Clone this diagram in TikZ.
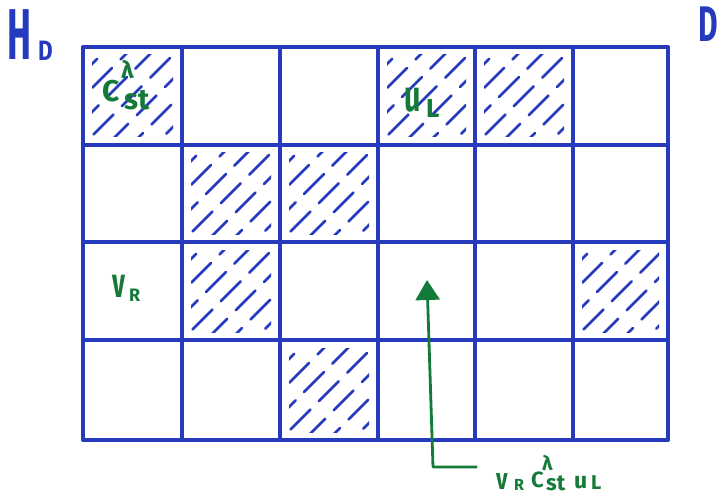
\documentclass[tikz,border=0pt]{standalone}
\usepackage{fontspec}
\setmainfont{Fira Sans}
\usetikzlibrary{arrows.meta}
\definecolor{ink}{RGB}{38,58,190}
\definecolor{pen}{RGB}{20,122,55}
\tikzset{
  grid line/.style={draw=ink, line width=3.4pt, line cap=round, line join=round},
  hatch/.style={draw=ink, line width=2.6pt, line cap=round, dash pattern=on 28pt off 12pt},
  lbl/.style={text=pen, inner sep=0pt, anchor=base west},
  title/.style={text=ink, inner sep=0pt, anchor=base west},
  pointer/.style={draw=pen, line width=2.8pt, line join=round,
    -{Triangle[length=20pt,width=24pt]}},
}
% hatch the cell with corners (x1,y1) and (x2,y2)
\newcommand\hatchcell[4]{%
  \begin{scope}
    \clip (#1+9,#2+8) rectangle (#3-9,#4-8);
    \foreach \k [count=\i] in {-96,-72,...,100}
      \draw[hatch, dash phase=\i*13pt] (#1+\k,#4) -- ++(110,-110);
  \end{scope}}
\begin{document}
\begin{tikzpicture}[x=1pt,y=-1pt]
\useasboundingbox (0,0) rectangle (722,497);

% hatched blocks
\hatchcell{83}{47}{182}{145}
\hatchcell{378}{47}{475}{145}
\hatchcell{475}{47}{573}{145}
\hatchcell{182}{145}{280}{242}
\hatchcell{280}{145}{378}{242}
\hatchcell{182}{242}{280}{340}
\hatchcell{573}{242}{668}{340}
\hatchcell{280}{340}{378}{440}

% grid
\foreach \x in {83,182,280,378,475,573,668}
  \draw[grid line] (\x,47) -- (\x,440);
\foreach \y in {47,145,242,340,440}
  \draw[grid line] (83,\y) -- (668,\y);

% matrix names
\node[title, font=\fontsize{72}{72}\selectfont\bfseries, xscale=0.5] (H) at (7,60) {H};
\node[title, font=\fontsize{28}{28}\selectfont\bfseries, xscale=0.8] (Hsub) at (38,61) {D};
\node[title, font=\fontsize{50}{50}\selectfont\bfseries, xscale=0.6] (D) at (698,42) {D};

% block labels
\node[lbl, font=\fontsize{30}{30}\selectfont\bfseries] (C1) at (102,102) {C};
\node[lbl, font=\fontsize{29}{29}\selectfont\bfseries] (st1) at (124,110) {st};
\node[lbl, font=\fontsize{24}{24}\selectfont\bfseries] (lam1) at (121,79) {λ};

\node[lbl, font=\fontsize{44}{44}\selectfont\bfseries, xscale=0.65] (u1) at (404,112) {u};
\node[lbl, font=\fontsize{26}{26}\selectfont\bfseries] (L1) at (426,118) {L};

\node[lbl, font=\fontsize{42}{42}\selectfont\bfseries, xscale=0.6] (v1) at (112,297) {v};
\node[lbl, font=\fontsize{18}{18}\selectfont\bfseries] (R1) at (129,301) {R};

% product label
\node[lbl, font=\fontsize{30}{30}\selectfont\bfseries, xscale=0.75] (v2) at (496,489) {v};
\node[lbl, font=\fontsize{16}{16}\selectfont\bfseries] (R2) at (514,490) {R};
\node[lbl, font=\fontsize{22}{22}\selectfont\bfseries] (C2) at (531,487) {C};
\node[lbl, font=\fontsize{22}{22}\selectfont\bfseries] (st2) at (546,490) {st};
\node[lbl, font=\fontsize{20}{20}\selectfont\bfseries] (lam2) at (542,470) {λ};
\node[lbl, font=\fontsize{23}{23}\selectfont\bfseries] (u2) at (574,488) {u};
\node[lbl, font=\fontsize{20}{20}\selectfont\bfseries] (L2) at (591,489) {L};

% pointer from the product to its block
\coordinate (start) at (477,467);
\coordinate (corner) at (433,467);
\coordinate (tip) at (427,280);
\draw[pointer] (start) -- (corner) -- (tip);
\end{tikzpicture}
\end{document}
